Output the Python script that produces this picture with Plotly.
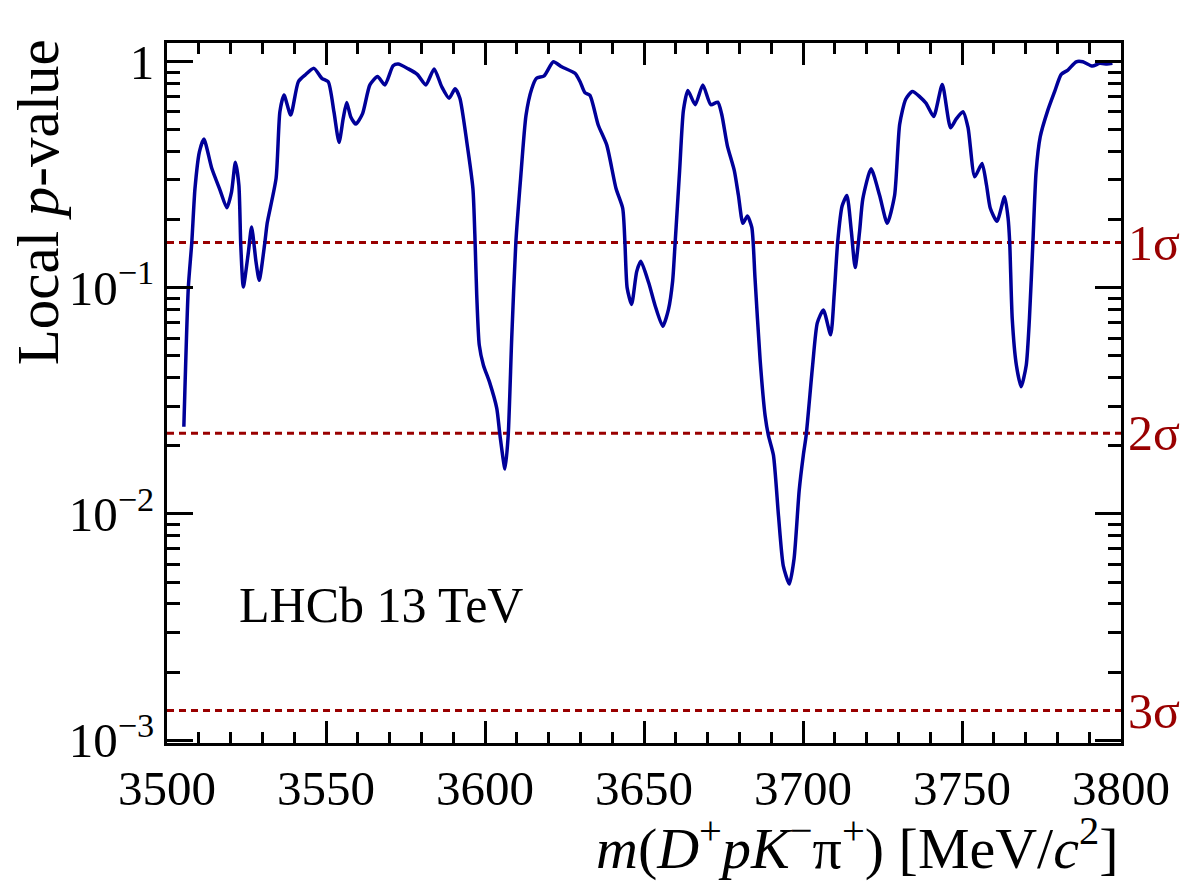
import numpy as np
import plotly.graph_objects as go

mass = [3505.3, 3506.7, 3507.8, 3508.8, 3510.2, 3511.6, 3514.1, 3516.7, 3518.8, 3520.3,
        3521.5, 3522.6, 3523.2, 3524.0, 3525.6, 3526.6, 3528.0, 3529.0, 3530.8, 3531.5,
        3534.3, 3535.5, 3536.8, 3538.9, 3541.3, 3543.4, 3546.2, 3548.7, 3550.7, 3552.5,
        3554.1, 3555.4, 3556.5, 3557.8, 3559.4, 3561.5, 3563.8, 3566.2, 3568.5, 3571.1,
        3572.7, 3575.9, 3578.7, 3581.4, 3584.0, 3586.4, 3588.7, 3590.6, 3592.1, 3594.3,
        3596.2, 3596.9, 3597.4, 3598.2, 3599.5, 3601.5, 3603.7, 3604.7, 3606.3, 3607.3,
        3608.4, 3609.7, 3611.2, 3612.9, 3614.7, 3616.2, 3618.6, 3621.5, 3624.1, 3628.3,
        3629.9, 3631.4, 3633.0, 3635.6, 3638.3, 3641.2, 3643.3, 3644.0, 3644.7, 3646.1,
        3647.7, 3649.0, 3651.5, 3653.5, 3655.9, 3657.7, 3659.0, 3659.8, 3661.2, 3662.4,
        3663.8, 3666.1, 3668.5, 3671.0, 3673.2, 3674.5, 3676.2, 3678.4, 3679.7, 3681.1,
        3682.5, 3683.9, 3684.9, 3686.5, 3688.1, 3689.1, 3690.7, 3692.3, 3693.8, 3695.7,
        3697.2, 3698.8, 3700.1, 3701.0, 3703.0, 3704.5, 3706.4, 3708.7, 3709.8, 3710.9,
        3712.3, 3713.8, 3715.2, 3716.4, 3717.8, 3718.8, 3721.4, 3724.1, 3726.5, 3728.8,
        3730.4, 3732.3, 3734.4, 3738.6, 3741.1, 3743.8, 3746.4, 3748.2, 3750.3, 3751.9,
        3754.0, 3756.3, 3757.7, 3758.9, 3761.0, 3763.4, 3764.5, 3765.0, 3765.8, 3767.1,
        3768.6, 3770.2, 3771.2, 3772.3, 3773.3, 3774.6, 3777.0, 3779.1, 3781.2, 3783.3,
        3785.9, 3788.0, 3791.0, 3793.3, 3795.6, 3797.3]

pvalue = [0.0243, 0.10, 0.159, 0.275, 0.40, 0.455, 0.337, 0.27, 0.226, 0.266,
          0.359, 0.285, 0.154, 0.101, 0.144, 0.186, 0.130, 0.108, 0.160, 0.193,
          0.305, 0.601, 0.713, 0.581, 0.816, 0.873, 0.935, 0.845, 0.816, 0.60,
          0.44, 0.56, 0.66, 0.57, 0.53, 0.59, 0.79, 0.86, 0.79, 0.96,
          0.977, 0.93, 0.88, 0.79, 0.93, 0.775, 0.69, 0.76, 0.69, 0.44,
          0.275, 0.157, 0.093, 0.0558, 0.0455, 0.038, 0.0293, 0.0223, 0.0158, 0.0223,
          0.0597, 0.159, 0.305, 0.58, 0.76, 0.845, 0.867, 1.0, 0.95, 0.889,
          0.816, 0.73, 0.71, 0.525, 0.428, 0.275, 0.225, 0.159, 0.10, 0.0845,
          0.118, 0.131, 0.105, 0.0834, 0.0676, 0.0804, 0.107, 0.159, 0.33, 0.61,
          0.746, 0.646, 0.79, 0.646, 0.663, 0.58, 0.426, 0.33, 0.256, 0.193,
          0.208, 0.185, 0.111, 0.0484, 0.0271, 0.0223, 0.0182, 0.0098, 0.0059, 0.0049,
          0.00636, 0.0127, 0.0182, 0.0223, 0.045, 0.07, 0.0798, 0.062, 0.093, 0.159,
          0.23, 0.256, 0.178, 0.123, 0.178, 0.247, 0.336, 0.256, 0.193, 0.256,
          0.529, 0.683, 0.739, 0.658, 0.573, 0.794, 0.511, 0.559, 0.601, 0.511,
          0.31, 0.355, 0.285, 0.225, 0.197, 0.253, 0.203, 0.159, 0.073, 0.0455,
          0.0365, 0.0455, 0.073, 0.159, 0.326, 0.466, 0.611, 0.736, 0.879, 0.919,
          1.0, 1.0, 0.957, 0.984, 0.977, 0.984]

sigma_labels = ["1σ", "2σ", "3σ"]
sigma_pvalues = [0.1587, 0.02275, 0.00135]

y_tickvals = [1e-3, 1e-2, 1e-1, 1]
y_ticktext = ["10<sup>−3</sup>", "10<sup>−2</sup>", "10<sup>−1</sup>", "1"]
x_tickvals = [3500, 3550, 3600, 3650, 3700, 3750, 3800]

FONT = "Liberation Serif"
BLUE = "#000099"
RED = "#990000"

fig = go.Figure()

for pv in sigma_pvalues:
    fig.add_trace(go.Scatter(x=[3500, 3800], y=[pv, pv], mode="lines",
                             line=dict(color=RED, width=3, dash="7px,5px"),
                             showlegend=False, hoverinfo="skip"))

fig.add_trace(go.Scatter(x=mass, y=pvalue, mode="lines",
                         line=dict(color=BLUE, width=3.5, shape="spline", smoothing=0.6),
                         showlegend=False))

y_minor = [m * 10.0 ** e for e in range(-3, 1) for m in range(2, 10)]
x_minor = list(range(3500, 3801, 10))

fig.update_xaxes(range=[3500, 3800], showgrid=False, zeroline=False,
                 showline=True, linecolor="black", linewidth=3, mirror="ticks",
                 ticks="inside", ticklen=22, tickwidth=3, tickcolor="black",
                 tickmode="array", tickvals=x_tickvals,
                 tickfont=dict(family=FONT, size=49, color="black"),
                 minor=dict(ticks="inside", ticklen=11, tickwidth=3, tickcolor="black",
                            tickmode="array", tickvals=x_minor, showgrid=False))

fig.update_yaxes(type="log", range=[-3.013, 0.083], showgrid=False, zeroline=False,
                 showline=True, linecolor="black", linewidth=3, mirror="ticks",
                 ticks="inside", ticklen=26, tickwidth=3, tickcolor="black",
                 tickmode="array", tickvals=y_tickvals, ticktext=y_ticktext,
                 tickfont=dict(family=FONT, size=49, color="black"),
                 minor=dict(ticks="inside", ticklen=13, tickwidth=3, tickcolor="black",
                            tickmode="array", tickvals=y_minor, showgrid=False))

annotations = []
for lab, pv in zip(sigma_labels, sigma_pvalues):
    annotations.append(dict(x=1, xref="paper", xanchor="left", xshift=5,
                            y=np.log10(pv), yref="y", yanchor="middle",
                            text=lab, showarrow=False,
                            font=dict(family=FONT, size=50, color=RED)))

annotations.append(dict(x=-0.135, xref="paper", xanchor="center",
                        y=1, yref="paper", yanchor="top", yshift=6,
                        text="Local <i>p</i>-value", textangle=-90, showarrow=False,
                        font=dict(family=FONT, size=59, color="black")))

annotations.append(dict(x=1, xref="paper", xanchor="right",
                        y=0, yref="paper", yanchor="top", yshift=-63,
                        text="<i>m</i>(<i>D</i><sup>+</sup><i>pK</i><sup>−</sup>π<sup>+</sup>) [MeV/<i>c</i><sup>2</sup>]",
                        showarrow=False,
                        font=dict(family=FONT, size=58, color="black")))

annotations.append(dict(x=0.0734, xref="paper", xanchor="left",
                        y=0.197, yref="paper", yanchor="middle",
                        text="LHCb 13 TeV", showarrow=False,
                        font=dict(family=FONT, size=50, color="black")))

fig.update_layout(width=1182, height=886,
                  margin=dict(l=167, r=61, t=43, b=143, pad=0),
                  paper_bgcolor="white", plot_bgcolor="white",
                  annotations=annotations, showlegend=False,
                  font=dict(family=FONT))

fig.write_html("out.html")
